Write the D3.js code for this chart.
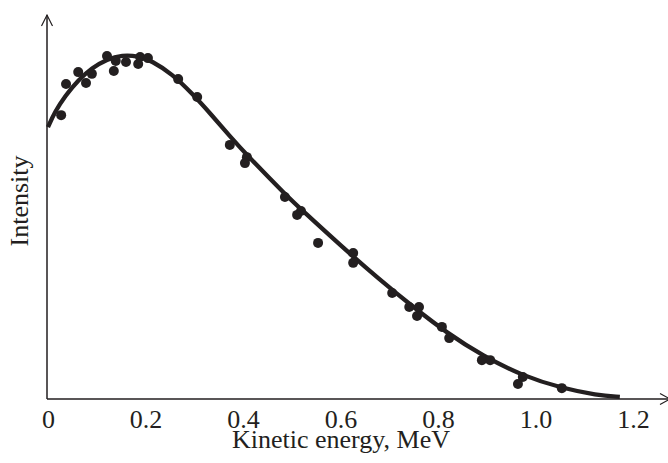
<!DOCTYPE html>
<meta charset="utf-8">
<style>
  body { margin: 0; background: #fff; }
  text { font-family: "Liberation Serif", "Times New Roman", serif; fill: #231f20; }
</style>
<svg width="668" height="463"></svg>
<script src="https://d3js.org/d3.v7.min.js"></script>
<script>

// measured points (MeV, arbitrary intensity)
var energy    = [0.027, 0.037, 0.062, 0.078, 0.090, 0.121, 0.135, 0.139, 0.160, 0.185, 0.189, 0.205,
                 0.267, 0.306, 0.373, 0.408, 0.404, 0.486, 0.519, 0.511, 0.554, 0.626, 0.626,
                 0.706, 0.741, 0.761, 0.757, 0.808, 0.823, 0.890, 0.907, 0.974, 0.964, 1.054];
var intensity = [81.1, 90.0, 93.4, 90.3, 92.9, 98.0, 93.7, 96.6, 96.3, 95.7, 97.7, 97.4,
                 91.4, 86.3, 72.6, 69.1, 67.4, 57.7, 53.7, 52.6, 44.6, 41.7, 38.9,
                 30.3, 26.3, 26.3, 23.7, 20.6, 17.4, 11.1, 11.1, 6.3, 4.3, 3.1];

// fitted spectrum
var fitEnergy    = [0, 0.014, 0.035, 0.062, 0.090, 0.121, 0.152, 0.185, 0.213, 0.254, 0.295, 0.336,
                    0.373, 0.408, 0.490, 0.523, 0.599, 0.681, 0.749, 0.818, 0.892, 0.974, 1.054, 1.126, 1.173];
var fitIntensity = [77.7, 82.0, 86.6, 91.1, 94.6, 97.1, 98.3, 98.0, 96.6, 92.9, 87.4, 81.1,
                    75.1, 69.7, 58.0, 53.7, 44.0, 34.0, 26.3, 18.9, 12.3, 6.6, 3.1, 1.1, 0.6];

var tickValues = [0, 0.2, 0.4, 0.6, 0.8, 1.0, 1.2],
    tickLabels = ["0", "0.2", "0.4", "0.6", "0.8", "1.0", "1.2"];

var ink = "#231f20";

var svg = d3.select("svg");

var x = d3.scaleLinear().domain([0, 1.2]).range([48, 633]),
    y = d3.scaleLinear().domain([0, 100]).range([399, 49]);

// axes with open arrow heads
svg.append("path")
    .attr("d", "M47,399H668M47,399V15")
    .attr("fill", "none")
    .attr("stroke", ink)
    .attr("stroke-width", 1.5);

svg.append("path")
    .attr("d", "M41.5,26L47,15L52.5,26M660,393.5L670,399L660,404.5")
    .attr("fill", "none")
    .attr("stroke", ink)
    .attr("stroke-width", 1.2);

var xAxis = svg.append("g")
    .attr("transform", "translate(0,399)")
    .call(d3.axisBottom(x)
      .tickValues(tickValues)
      .tickSize(0)
      .tickPadding(11)
      .tickFormat(function(d, i) { return tickLabels[i]; }));

xAxis.select(".domain").remove();
xAxis.selectAll("text")
    .attr("font-family", "Liberation Serif, Times New Roman, serif")
    .attr("font-size", 26)
    .attr("fill", ink);

svg.append("text")
    .attr("x", 341)
    .attr("y", 448)
    .attr("text-anchor", "middle")
    .attr("font-size", 26)
    .text("Kinetic energy, MeV");

svg.append("text")
    .attr("transform", "translate(28,201) rotate(-90)")
    .attr("text-anchor", "middle")
    .attr("font-size", 26)
    .text("Intensity");

// fitted curve
var line = d3.line()
    .x(function(d, i) { return x(fitEnergy[i]); })
    .y(function(d, i) { return y(fitIntensity[i]); })
    .curve(d3.curveBasis);

svg.append("path")
    .datum(fitEnergy)
    .attr("d", line)
    .attr("fill", "none")
    .attr("stroke", ink)
    .attr("stroke-width", 4.3);

// data points
svg.append("g").selectAll("circle")
    .data(energy)
  .enter().append("circle")
    .attr("cx", function(d) { return x(d); })
    .attr("cy", function(d, i) { return y(intensity[i]); })
    .attr("r", 5)
    .attr("fill", ink);

</script>
